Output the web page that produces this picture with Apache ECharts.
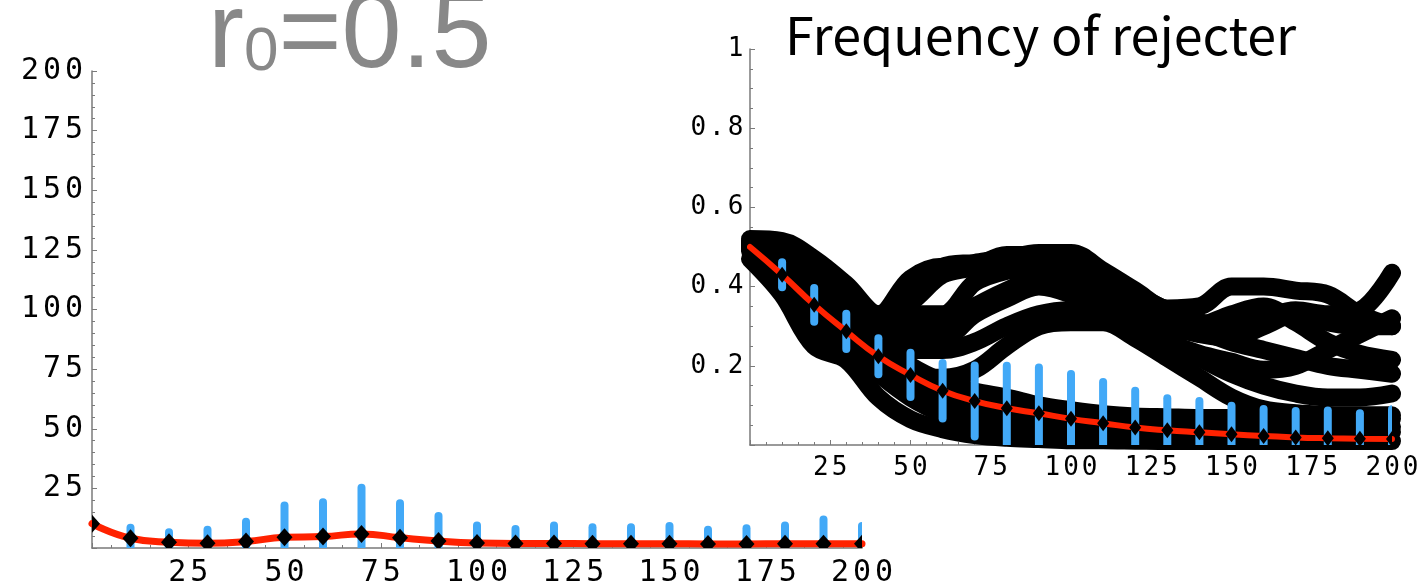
<!DOCTYPE html>
<html>
<head>
<meta charset="utf-8">
<script src="https://cdn.jsdelivr.net/npm/echarts@6/dist/echarts.min.js"></script>
<style>
  html, body { margin: 0; padding: 0; background: #fff; }
  #chart { width: 1427px; height: 584px; }
</style>
</head>
<body>
<div id="chart"></div>
<script>
// ---- time points (every 10 steps) ----
const steps = [0, 10, 20, 30, 40, 50, 60, 70, 80, 90, 100, 110, 120, 130, 140, 150, 160, 170, 180, 190, 200];

// ---- main panel: mean count and its standard deviation ----
const countMean = [10.2, 4.1, 2.4, 2.0, 2.7, 4.5, 4.8, 5.9, 4.3, 2.9, 2.1, 1.9, 1.9, 1.8, 1.8, 1.8, 1.7, 1.7, 1.8, 1.8, 1.8];
const countSD   = [null, 4.4, 4.2, 5.6, 8.3, 13.3, 14.4, 19.4, 14.5, 10.5, 7.3, 6.1, 7.5, 6.9, 6.9, 7.4, 5.9, 6.6, 7.6, 10.2, 7.4];

// ---- inset: mean frequency of rejecters and its standard deviation ----
const freqMean = [0.50, 0.43, 0.354, 0.287, 0.224, 0.177, 0.137, 0.111, 0.093, 0.080, 0.066, 0.055, 0.044, 0.037, 0.032, 0.027, 0.023, 0.019, 0.017, 0.016, 0.015];
const freqSD   = [null, 0.0315, 0.0425, 0.0445, 0.0455, 0.056, 0.070, 0.0895, 0.107, 0.116, 0.113, 0.104, 0.093, 0.081, 0.079, 0.072, 0.068, 0.067, 0.070, 0.064, 0.075];

// ---- inset: individual runs (lower, middle and upper bundles) ----
const runL1 = [0.47, 0.38, 0.25, 0.215, 0.12, 0.065, 0.04, 0.025, 0.018, 0.015, 0.012, 0.012, 0.011, 0.010, 0.010, 0.010, 0.010, 0.010, 0.010, 0.010, 0.010];
const runL2 = [0.49, 0.41, 0.29, 0.25, 0.18, 0.12, 0.08, 0.06, 0.05, 0.045, 0.04, 0.038, 0.036, 0.035, 0.035, 0.034, 0.034, 0.033, 0.033, 0.033, 0.033];
const runL3 = [0.51, 0.46, 0.39, 0.32, 0.26, 0.20, 0.16, 0.135, 0.12, 0.10, 0.088, 0.078, 0.072, 0.070, 0.068, 0.068, 0.068, 0.066, 0.066, 0.066, 0.066];
const runM1 = [0.50, 0.44, 0.36, 0.29, 0.22, 0.17, 0.17, 0.19, 0.25, 0.30, 0.31, 0.31, 0.27, 0.22, 0.17, 0.12, 0.09, 0.08, 0.076, 0.075, 0.075];
const runM2 = [0.51, 0.46, 0.40, 0.34, 0.28, 0.24, 0.24, 0.26, 0.30, 0.33, 0.34, 0.33, 0.30, 0.26, 0.22, 0.18, 0.15, 0.13, 0.12, 0.12, 0.13];
const runM3 = [0.50, 0.44, 0.33, 0.28, 0.22, 0.15, 0.11, 0.09, 0.075, 0.06, 0.055, 0.05, 0.05, 0.048, 0.048, 0.047, 0.047, 0.046, 0.046, 0.046, 0.046];
const runU1 = [0.52, 0.515, 0.47, 0.405, 0.33, 0.42, 0.45, 0.45, 0.47, 0.485, 0.485, 0.44, 0.39, 0.345, 0.35, 0.40, 0.40, 0.39, 0.38, 0.33, 0.30];
const runU2 = [0.51, 0.50, 0.45, 0.39, 0.32, 0.36, 0.43, 0.45, 0.48, 0.48, 0.46, 0.42, 0.38, 0.34, 0.31, 0.30, 0.32, 0.34, 0.33, 0.34, 0.435];
const runU3 = [0.51, 0.49, 0.44, 0.38, 0.32, 0.33, 0.33, 0.41, 0.44, 0.45, 0.43, 0.38, 0.33, 0.30, 0.28, 0.27, 0.30, 0.33, 0.31, 0.30, 0.30];
const runU4 = [0.50, 0.48, 0.43, 0.37, 0.31, 0.30, 0.31, 0.35, 0.39, 0.42, 0.40, 0.35, 0.31, 0.29, 0.30, 0.33, 0.35, 0.31, 0.26, 0.23, 0.215];
const runU5 = [0.50, 0.47, 0.42, 0.36, 0.30, 0.28, 0.27, 0.33, 0.37, 0.40, 0.38, 0.34, 0.30, 0.26, 0.23, 0.21, 0.19, 0.20, 0.24, 0.28, 0.32];
const runU6 = [0.51, 0.49, 0.44, 0.38, 0.33, 0.37, 0.45, 0.46, 0.47, 0.46, 0.44, 0.40, 0.36, 0.32, 0.29, 0.26, 0.24, 0.22, 0.20, 0.19, 0.18];
const runs = [runL1, runL2, runL3, runM1, runM2, runM3, runU1, runU2, runU3, runU4, runU5, runU6];

// ---- tick label text ----
const countTicks = ['25', '50', '75', '100', '125', '150', '175', '200'];
const freqTicks = ['0.2', '0.4', '0.6', '0.8', '1'];

const BLUE = '#42a9f7';
const RED = '#ff2200';
const AXIS = '#7a7a7a';

// spread every character into a fixed-width cell so the digits sit on an even pitch
function cells(text, cls) {
  return text.split('').map(c => '{' + cls + '|' + c + '}').join('');
}
function countLabel(cls) {
  return v => {
    const s = String(Math.round(v));
    return countTicks.includes(s) ? cells(s, cls) : '';
  };
}
function freqLabel(v) {
  const s = Math.abs(v - 1) < 1e-9 ? '1' : v.toFixed(1);
  return freqTicks.includes(s) ? cells(s, 'f') : '';
}

const richMain = { m: { fontFamily: 'DejaVu Sans Mono', fontSize: 30, width: 22, align: 'center', color: '#000' } };
const richInset = { f: { fontFamily: 'DejaVu Sans Mono', fontSize: 26, width: 18.7, align: 'center', color: '#000' } };

function axisBase(extra) {
  return Object.assign({
    type: 'value',
    axisLine: { show: true, onZero: false, lineStyle: { color: AXIS, width: 1.5 } },
    axisTick: { show: true, inside: true, length: 5, lineStyle: { color: AXIS, width: 1 } },
    splitLine: { show: false },
    minorSplitLine: { show: false }
  }, extra);
}
function minor(n) {
  return { show: true, splitNumber: n, length: 3, lineStyle: { color: AXIS, width: 1 } };
}

function errorBars(mean, sd) {
  const rows = [];
  steps.forEach((x, i) => {
    if (sd[i] != null) rows.push([x, mean[i] - sd[i], mean[i] + sd[i]]);
  });
  return rows;
}
function barItem(params, api) {
  const a = api.coord([api.value(0), api.value(1)]);
  const b = api.coord([api.value(0), api.value(2)]);
  return {
    type: 'line',
    shape: { x1: a[0], y1: a[1], x2: b[0], y2: b[1] },
    style: { stroke: BLUE, lineWidth: 8, lineCap: 'round' }
  };
}
// filled diamond marker around a data point (clipped to the plot area)
function diamondItem(w, h) {
  return (params, api) => {
    const c = api.coord([api.value(0), api.value(1)]);
    return {
      type: 'polygon',
      shape: { points: [[c[0], c[1] - h / 2], [c[0] + w / 2, c[1]], [c[0], c[1] + h / 2], [c[0] - w / 2, c[1]]] },
      style: { fill: '#000' }
    };
  };
}
const pairs = vals => steps.map((x, i) => [x, vals[i]]);

const series = [];

// individual runs, drawn as heavy black traces
runs.forEach((r, k) => {
  series.push({
    name: 'run' + (k + 1),
    type: 'line', xAxisIndex: 1, yAxisIndex: 1,
    data: pairs(r), smooth: 0.35, symbol: 'none', silent: true, z: 1,
    lineStyle: { color: '#000', width: 18, cap: 'round', join: 'round' }
  });
});

series.push(
  { type: 'custom', xAxisIndex: 1, yAxisIndex: 1, clip: true, z: 2, silent: true,
    data: errorBars(freqMean, freqSD), encode: { x: 0, y: [1, 2] }, renderItem: barItem },
  { type: 'line', xAxisIndex: 1, yAxisIndex: 1, z: 3, silent: true,
    data: pairs(freqMean), smooth: true, symbol: 'none',
    lineStyle: { color: RED, width: 6, cap: 'round' } },
  { type: 'custom', xAxisIndex: 1, yAxisIndex: 1, clip: true, z: 4, silent: true,
    data: pairs(freqMean).slice(1), encode: { x: 0, y: 1 }, renderItem: diamondItem(12, 16) },

  { type: 'custom', xAxisIndex: 0, yAxisIndex: 0, clip: true, z: 2, silent: true,
    data: errorBars(countMean, countSD), encode: { x: 0, y: [1, 2] }, renderItem: barItem },
  { type: 'line', xAxisIndex: 0, yAxisIndex: 0, z: 3, silent: true,
    data: pairs(countMean), smooth: true, symbol: 'none',
    lineStyle: { color: RED, width: 7, cap: 'round' } },
  { type: 'custom', xAxisIndex: 0, yAxisIndex: 0, clip: true, z: 4, silent: true,
    data: pairs(countMean), encode: { x: 0, y: 1 }, renderItem: diamondItem(16, 18) }
);

const chart = echarts.init(document.getElementById('chart'), null, { renderer: 'canvas' });
chart.setOption({
  backgroundColor: '#fff',
  animation: false,
  title: [
    {
      text: '{r|r}{s|0}{r|=0.5}',
      left: 203, top: -22,
      textStyle: {
        rich: {
          r: { fontFamily: 'Liberation Sans', fontSize: 108, fontWeight: 'normal', color: '#888888', verticalAlign: 'bottom' },
          s: { fontFamily: 'Liberation Sans', fontSize: 62, fontWeight: 'normal', color: '#888888', verticalAlign: 'bottom', padding: [0, 0, 7, 0] }
        }
      }
    },
    {
      text: 'Frequency of rejecter',
      left: 780, top: 4,
      textStyle: { fontFamily: 'Noto Sans CJK JP', fontSize: 52, fontWeight: 'normal', color: '#000' }
    }
  ],
  grid: [
    { left: 92, top: 71, width: 770, height: 477, outerBoundsMode: 'none', containLabel: false },
    { left: 750, top: 49, width: 642, height: 396, outerBoundsMode: 'none', containLabel: false }
  ],
  xAxis: [
    axisBase({ gridIndex: 0, min: 0, max: 200, interval: 25, minorTick: minor(5),
      axisLabel: { formatter: countLabel('m'), rich: richMain, margin: 10 } }),
    axisBase({ gridIndex: 1, min: 0, max: 200, interval: 25, minorTick: minor(5),
      axisLabel: { formatter: countLabel('f'), rich: richInset, margin: 10 } })
  ],
  yAxis: [
    axisBase({ gridIndex: 0, min: 0, max: 200, interval: 25, minorTick: minor(5),
      axisLabel: { formatter: countLabel('m'), rich: richMain, margin: 7 } }),
    axisBase({ gridIndex: 1, min: 0, max: 1, interval: 0.2, minorTick: minor(4),
      axisLabel: { formatter: freqLabel, rich: richInset, margin: 5 } })
  ],
  series: series
});
</script>
</body>
</html>
